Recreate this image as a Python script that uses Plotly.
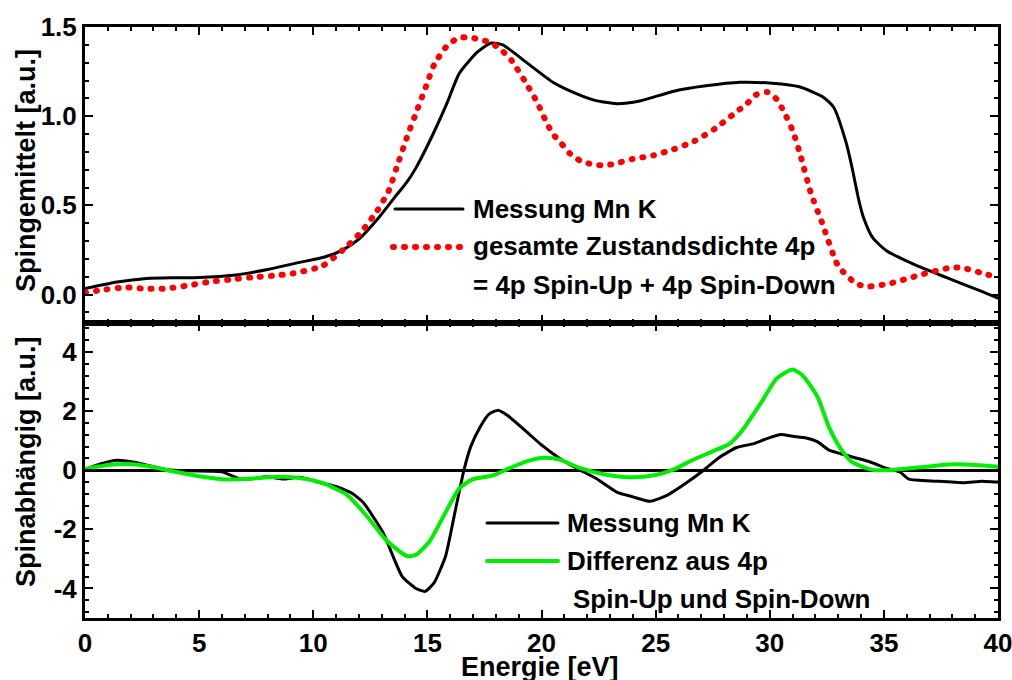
import plotly.graph_objects as go
from plotly.subplots import make_subplots

# ---------------- data ----------------
# top panel: spin-averaged
avg_meas_x = [0, 1.4, 2.7, 4.0, 5.0, 6.5, 8.0, 9.4, 10.5, 11.3, 12.0, 12.8, 13.6, 14.1, 14.5, 15.25,
              15.85, 16.4, 17.2, 17.8, 18.3, 19.35, 20.5, 21.1, 22.3, 23.3, 24.3, 25.8, 27.2, 28.7,
              30.1, 31.3, 32.3, 32.8, 33.35, 33.6, 33.9, 34.1, 34.5, 35.1, 36.3, 37.7, 39.2, 40.0]
avg_meas_y = [0.033, 0.07, 0.09, 0.094, 0.096, 0.108, 0.14, 0.18, 0.21, 0.25, 0.31, 0.42, 0.55,
              0.63, 0.71, 0.9, 1.07, 1.24, 1.36, 1.41, 1.40, 1.30, 1.19, 1.15, 1.09, 1.07, 1.085,
              1.14, 1.17, 1.19, 1.185, 1.165, 1.11, 1.05, 0.85, 0.715, 0.53, 0.434, 0.32, 0.247,
              0.17, 0.097, 0.022, -0.02]

dos_x = [0, 0.9, 1.8, 2.7, 3.6, 4.5, 5.45, 6.35, 7.3, 8.2, 9.1, 10.4, 11.3, 12.1, 12.8, 13.3, 13.65,
         14.1, 14.45, 14.95, 15.3, 15.9, 16.4, 16.9, 17.3, 17.8, 18.25, 18.7, 19.3, 19.8, 20.2, 20.5,
         20.85, 21.25, 21.7, 22.2, 22.6, 23.1, 24.0, 24.9, 25.8, 26.7, 27.6, 28.5, 29.0, 29.4, 29.9,
         30.3, 30.6, 31.0, 31.3, 31.8, 32.3, 33.0, 33.8, 34.3, 35.2, 36.6, 37.9, 38.4, 39.3, 40.0]
dos_y = [0.01, 0.028, 0.04, 0.032, 0.034, 0.05, 0.071, 0.084, 0.096, 0.105, 0.118, 0.16, 0.25, 0.35,
         0.47, 0.58, 0.71, 0.88, 1.0, 1.17, 1.29, 1.40, 1.44, 1.44, 1.43, 1.41, 1.37, 1.31, 1.19,
         1.08, 0.97, 0.9, 0.85, 0.79, 0.75, 0.73, 0.725, 0.73, 0.76, 0.78, 0.815, 0.86, 0.93, 1.02,
         1.07, 1.12, 1.135, 1.095, 1.03, 0.92, 0.80, 0.57, 0.40, 0.16, 0.06, 0.045, 0.06, 0.11,
         0.15, 0.15, 0.12, 0.096]

# bottom panel: spin-dependent
dep_meas_x = [0, 0.7, 1.4, 2.1, 3.0, 3.6, 4.5, 5.5, 6.0, 6.8, 7.2, 8.0, 8.7, 9.4, 10.4, 11.0, 11.7,
              12.2, 13.05, 13.9, 14.5, 14.9, 15.3, 15.8, 16.2, 16.6, 16.9, 17.3, 17.7, 18.1, 18.5,
              19.35, 19.93, 20.4, 20.8, 21.7, 22.4, 23.3, 24.0, 24.75, 25.5, 26.4, 27.1, 27.8,
              28.55, 29.3, 29.9, 30.5, 31.0, 31.6, 32.1, 32.6, 33.1, 34.4, 35.1, 35.7, 36.1, 37.3,
              38.5, 39.3, 39.9, 40.0]
dep_meas_y = [0.02, 0.22, 0.34, 0.28, 0.12, 0.02, -0.02, -0.03, -0.05, -0.3, -0.3, -0.22, -0.3,
              -0.24, -0.44, -0.55, -0.78, -1.1, -2.1, -3.6, -4.0, -4.1, -3.8, -2.9, -1.45, 0.0, 0.8,
              1.45, 1.9, 2.03, 1.86, 1.3, 0.9, 0.62, 0.4, 0.0, -0.28, -0.74, -0.9, -1.05, -0.85,
              -0.4, 0.0, 0.44, 0.77, 0.9, 1.08, 1.21, 1.15, 1.09, 0.96, 0.68, 0.56, 0.28, 0.07,
              -0.06, -0.3, -0.37, -0.42, -0.37, -0.4, -0.4]

diff_x = [0, 0.7, 1.4, 2.1, 3.0, 3.6, 4.3, 5.0, 6.2, 7.2, 8.0, 8.7, 9.4, 10.4, 11.5, 12.4, 13.2,
          14.1, 14.5, 15.1, 15.85, 16.4, 17.0, 17.9, 18.6, 19.35, 20.1, 20.8, 21.7, 22.9, 24.0,
          25.0, 25.8, 26.6, 27.5, 28.25, 28.8, 29.6, 30.3, 31.0, 31.45, 32.1, 32.6, 33.1, 33.6,
          34.4, 35.1, 36.6, 38.0, 39.0, 40.0]
diff_y = [0.05, 0.14, 0.2, 0.2, 0.1, 0.0, -0.1, -0.2, -0.31, -0.29, -0.24, -0.22, -0.26, -0.43,
          -0.85, -1.6, -2.37, -2.9, -2.86, -2.4, -1.35, -0.61, -0.3, -0.17, 0.07, 0.3, 0.42, 0.36,
          0.07, -0.16, -0.24, -0.16, 0.03, 0.34, 0.64, 0.9, 1.35, 2.26, 3.1, 3.41, 3.2, 2.47, 1.45,
          0.74, 0.28, 0.03, 0.0, 0.1, 0.2, 0.18, 0.12]

x_ticks = [0, 5, 10, 15, 20, 25, 30, 35, 40]
top_ticks = [0.0, 0.5, 1.0, 1.5]
top_ticklabels = ["0.0", "0.5", "1.0", "1.5"]
bot_ticks = [-4, -2, 0, 2, 4]
bot_ticklabels = ["-4", "-2", "0", "2", "4"]

# ---------------- figure ----------------
FONT = "Liberation Sans, Arial, sans-serif"
fig = make_subplots(rows=2, cols=1, shared_xaxes=True, vertical_spacing=0)

fig.add_trace(go.Scatter(x=avg_meas_x, y=avg_meas_y, mode="lines", name="Messung Mn K",
                         line=dict(color="black", width=3, shape="spline", smoothing=0.6),
                         showlegend=False), row=1, col=1)
fig.add_trace(go.Scatter(x=dos_x, y=dos_y, mode="lines",
                         name="gesamte Zustandsdichte 4p = 4p Spin-Up + 4p Spin-Down",
                         line=dict(color="#ff0000", width=6, dash="1px,10px", shape="spline",
                                   smoothing=0.6),
                         showlegend=False), row=1, col=1)
fig.add_trace(go.Scatter(x=dep_meas_x, y=dep_meas_y, mode="lines", name="Messung Mn K",
                         line=dict(color="black", width=3, shape="spline", smoothing=0.5),
                         showlegend=False), row=2, col=1)
fig.add_trace(go.Scatter(x=diff_x, y=diff_y, mode="lines",
                         name="Differenz aus 4p Spin-Up und Spin-Down",
                         line=dict(color="#00ee00", width=4, shape="spline", smoothing=0.6),
                         showlegend=False), row=2, col=1)

axis_common = dict(showline=True, linecolor="black", linewidth=3, mirror="allticks",
                   ticks="inside", ticklen=8, tickwidth=2, tickcolor="black",
                   showgrid=False, zeroline=False, automargin=False,
                   ticklabeloverflow="allow",
                   tickfont=dict(family=FONT, size=26, color="black", weight="bold"))

fig.update_xaxes(range=[0, 40], tickvals=x_ticks, ticktext=[str(v) for v in x_ticks],
                 minor=dict(ticks="inside", ticklen=4, tickwidth=2, tickcolor="black", dtick=1,
                            showgrid=False),
                 **axis_common)
fig.update_xaxes(showticklabels=False, row=1, col=1)
fig.update_xaxes(ticklabelstandoff=0, row=2, col=1)

fig.update_yaxes(range=[-0.157, 1.5], tickvals=top_ticks, ticktext=top_ticklabels,
                 minor=dict(ticks="inside", ticklen=4, tickwidth=2, tickcolor="black", dtick=0.1,
                            tick0=0, showgrid=False),
                 ticklabelstandoff=0, row=1, col=1, **axis_common)
ax2 = dict(axis_common)
ax2["zeroline"] = True
fig.update_yaxes(range=[-5, 5], tickvals=bot_ticks, ticktext=bot_ticklabels,
                 zerolinecolor="black", zerolinewidth=3,
                 minor=dict(ticks="inside", ticklen=4, tickwidth=2, tickcolor="black", dtick=0.4,
                            tick0=0, showgrid=False),
                 ticklabelstandoff=0, row=2, col=1, **ax2)

W, H = 1012, 680
ML, MR, MT, MB = 85, 14, 27, 62
PW, PH = W - ML - MR, H - MT - MB


def px(xp):
    return (xp - ML) / PW


def py(yp):
    return (H - MB - yp) / PH


text_font = dict(family=FONT, size=26, color="black", weight="bold")
title_font = dict(family=FONT, size=27, color="black", weight="bold")

annotations = [
    dict(text="Spingemittelt [a.u.]", x=px(26), y=py(171), textangle=-90, font=title_font),
    dict(text="Spinabhängig [a.u.]", x=px(26), y=py(462), textangle=-90, font=title_font),
    dict(text="Energie [eV]", x=px(540), y=py(667), font=title_font),
    dict(text="Messung Mn K", x=px(471), y=py(209), xanchor="left", font=text_font),
    dict(text="gesamte Zustandsdichte 4p", x=px(471), y=py(246), xanchor="left", font=text_font),
    dict(text="= 4p Spin-Up + 4p Spin-Down", x=px(471), y=py(285), xanchor="left", font=text_font),
    dict(text="Messung Mn K", x=px(565), y=py(523), xanchor="left", font=text_font),
    dict(text="Differenz aus 4p", x=px(565), y=py(561), xanchor="left", font=text_font),
    dict(text="Spin-Up und Spin-Down", x=px(571), y=py(599), xanchor="left", font=text_font),
]
for a in annotations:
    a.update(xref="paper", yref="paper", showarrow=False)
    a.setdefault("xanchor", "center")
    a.setdefault("yanchor", "middle")

shapes = [
    dict(type="line", x0=px(395), x1=px(463), y0=py(209), y1=py(209),
         line=dict(color="black", width=3)),
    dict(type="line", x0=px(393), x1=px(462), y0=py(247), y1=py(247),
         line=dict(color="#ff0000", width=6, dash="1px,10px")),
    dict(type="line", x0=px(487), x1=px(558), y0=py(523), y1=py(523),
         line=dict(color="black", width=3)),
    dict(type="line", x0=px(487), x1=px(558), y0=py(561), y1=py(561),
         line=dict(color="#00ee00", width=4)),
]
for s in shapes:
    s.update(xref="paper", yref="paper")

fig.update_layout(width=W, height=H, margin=dict(l=ML, r=MR, t=MT, b=MB, autoexpand=False),
                  plot_bgcolor="white", paper_bgcolor="white", showlegend=False,
                  annotations=annotations, shapes=shapes,
                  font=dict(family=FONT, color="black"))

post = """
function fixCaps(){
  var gd = document.getElementById('{plot_id}');
  if(!gd) return;
  gd.querySelectorAll('path.js-line').forEach(function(p){p.style.strokeLinecap='round';});
  gd.querySelectorAll('.shapelayer path').forEach(function(p){p.style.strokeLinecap='round';});
}
fixCaps(); setTimeout(fixCaps, 30); setTimeout(fixCaps, 200); setTimeout(fixCaps, 800);
"""

fig.write_html("out.html", post_script=post)
